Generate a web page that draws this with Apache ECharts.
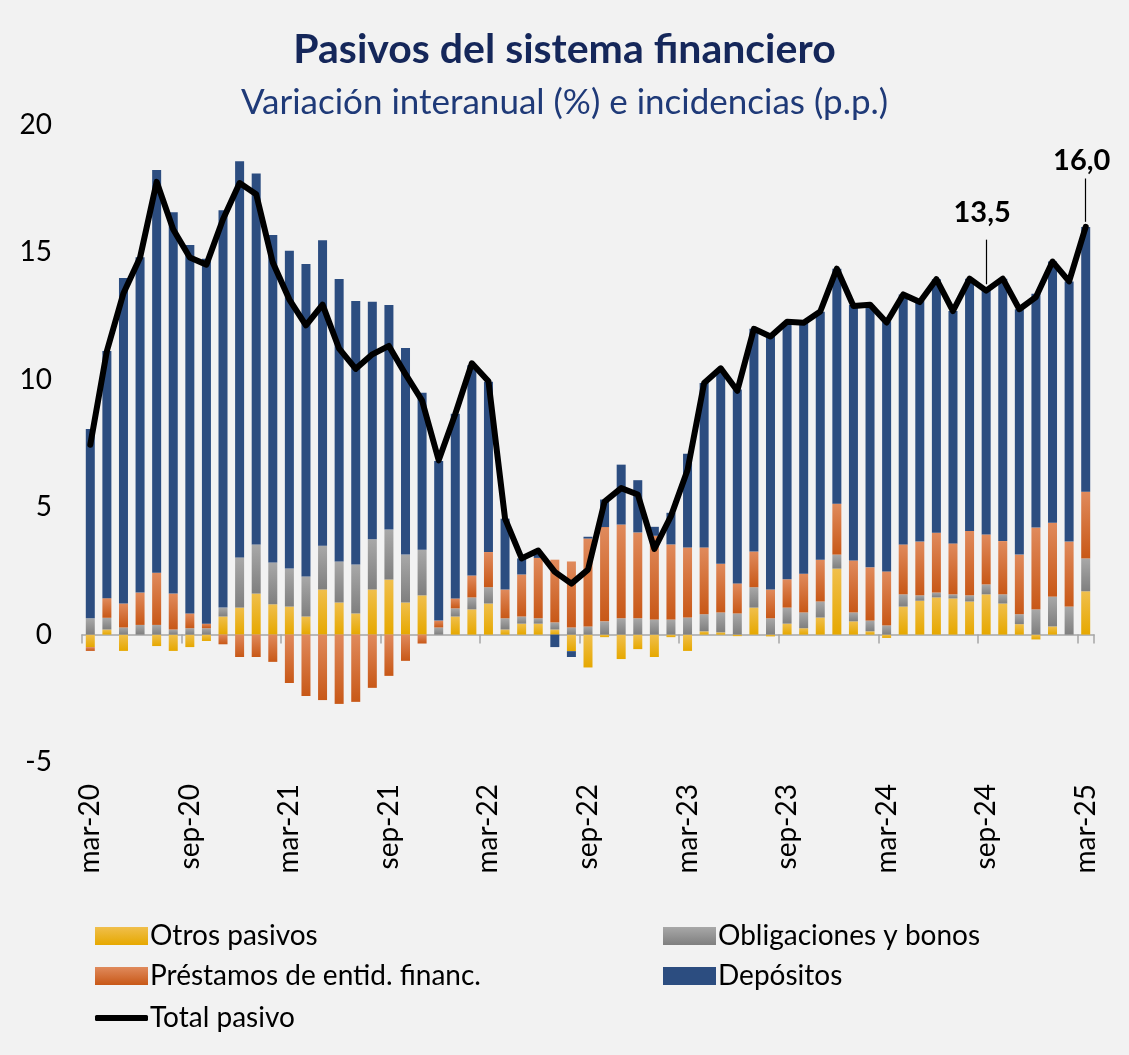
<!DOCTYPE html>
<html>
<head>
<meta charset="utf-8">
<script src="https://cdn.jsdelivr.net/npm/echarts@6/dist/echarts.min.js"></script>
<style>
  html, body { margin: 0; padding: 0; background: #f2f2f2; }
  #main { width: 1129px; height: 1055px; }
</style>
</head>
<body>
<div id="main"></div>
<script>
// meses: mar-20 ... mar-25
var meses = ['ene','feb','mar','abr','may','jun','jul','ago','sep','oct','nov','dic'];
var categorias = [];
for (var a = 20; a <= 25; a++) {
    for (var m = 0; m < 12; m++) {
        if ((a === 20 && m < 2) || (a === 25 && m > 2)) continue;
        categorias.push(meses[m] + '-' + a);
    }
}
// etiquetas del eje cada 6 meses
var etiquetasEje = ['mar-20','sep-20','mar-21','sep-21','mar-22','sep-22','mar-23','sep-23','mar-24','sep-24','mar-25'];

// incidencias (p.p.)
var otrosPasivos = [-0.49,0.20,-0.64,0,-0.45,-0.64,-0.49,-0.25,0.71,1.06,
    1.61,1.19,1.10,0.71,1.77,1.26,0.83,1.77,2.16,1.26,
    1.54,0,0.71,0.99,1.22,0.20,0.43,0.43,0.20,-0.65,
    -1.29,-0.10,-0.96,-0.57,-0.88,-0.10,-0.64,0.13,0.09,-0.06,
    1.06,-0.07,0.43,0.25,0.67,2.59,0.52,0.13,-0.13,1.10,
    1.33,1.46,1.42,1.30,1.58,1.22,0.41,-0.19,0.32,0,1.70];
var obligaciones = [0.64,0.46,0.28,0.38,0.38,0.20,0.25,0.25,0.35,1.97,
    1.93,1.64,1.49,1.57,1.72,1.61,1.92,1.97,1.96,1.88,
    1.79,0.28,0.32,0.47,0.64,0.44,0.28,0.21,0.28,0.28,
    0.32,0.52,0.64,0.64,0.59,0.59,0.67,0.67,0.78,0.83,
    0.80,0.64,0.63,0.62,0.63,0.55,0.35,0.42,0.36,0.48,
    0.21,0.19,0.16,0.24,0.39,0.36,0.39,0.99,1.17,1.10,1.29];
var prestamos = [-0.15,0.77,0.94,1.27,2.05,1.41,0.58,0.18,-0.38,-0.88,
    -0.88,-1.07,-1.90,-2.41,-2.57,-2.72,-2.64,-2.09,-1.62,-1.03,
    -0.35,0.27,0.39,0.86,1.38,1.13,1.65,2.37,2.46,2.59,
    3.45,3.70,3.68,3.37,3.29,2.95,2.75,2.62,1.91,1.18,
    1.40,1.13,1.11,1.52,1.64,2.00,2.04,2.09,2.12,1.96,
    2.11,2.35,2.00,2.53,1.96,2.09,2.34,3.21,2.90,2.55,2.62];
var depositos = [7.43,9.70,12.78,13.16,15.80,14.97,14.46,14.32,15.59,15.55,
    14.56,12.85,12.47,12.26,11.99,11.09,10.34,9.32,8.82,8.11,
    6.16,6.26,7.25,8.25,6.68,2.78,0.63,0.24,-0.49,-0.23,
    0.07,1.08,2.35,2.05,0.35,1.24,3.68,6.45,7.60,7.61,
    8.74,9.98,10.09,9.84,9.73,9.22,10.03,10.30,9.82,9.81,
    9.45,9.95,9.12,9.90,9.57,10.30,9.63,9.18,10.25,10.21,10.39];
// variación interanual (%)
var totalPasivo = [7.45,11.13,13.4,14.8,17.77,15.9,14.8,14.52,16.3,17.72,
    17.28,14.6,13.15,12.14,12.95,11.22,10.43,11.0,11.33,10.22,
    9.18,6.84,8.66,10.65,9.94,4.55,2.99,3.3,2.46,2.0,
    2.55,5.22,5.75,5.5,3.36,4.65,6.46,9.87,10.45,9.57,
    12.0,11.7,12.28,12.24,12.68,14.36,12.9,12.95,12.25,13.35,
    13.05,13.95,12.7,13.97,13.5,13.97,12.77,13.25,14.64,13.86,16.0];
// puntos con etiqueta y su guía: [índice, desplazamiento x, desplazamiento y, inicio guía, fin guía]
var etiquetas = [[54, -4, -58, 13.75, 15.5], [60, -4, -47, 16.2, 17.9]];

var fuente = 'Lato, "Open Sans", sans-serif';

function degradado(arriba, abajo) {
    return { type: 'linear', x: 0, y: 0, x2: 0, y2: 1,
        colorStops: [{ offset: 0, color: arriba }, { offset: 1, color: abajo }] };
}
var cAmarillo = degradado('#f0bf4c', '#e6a800');
var cGris = degradado('#a8a8a8', '#7f7f7f');
var cNaranja = degradado('#e08a5c', '#c85817');
var cAzul = '#2c4d80';

function serieBarra(nombre, datos, color) {
    return {
        name: nombre,
        type: 'bar',
        stack: 'inc',
        barWidth: 9,
        data: datos,
        itemStyle: { color: color }
    };
}

function leyenda(nombre, left, top, alto) {
    var l = {
        data: [{ name: nombre, icon: alto ? 'roundRect' : 'rect' }],
        left: left, top: top,
        padding: 0,
        itemWidth: 53, itemHeight: alto || 18,
        itemGap: 0,
        textStyle: { fontFamily: fuente, fontSize: 28, color: '#000', padding: [0, 0, 0, -3] }
    };
    return l;
}

var datosTotal = totalPasivo.map(function (v, i) {
    for (var k = 0; k < etiquetas.length; k++) {
        if (etiquetas[k][0] === i) {
            return { value: v, label: { show: true, offset: [etiquetas[k][1], etiquetas[k][2]] } };
        }
    }
    return v;
});
var guias = etiquetas.map(function (e) {
    return [{ coord: [e[0], e[3]] }, { coord: [e[0], e[4]] }];
});

var chart = echarts.init(document.getElementById('main'));
var option = {
    backgroundColor: '#f2f2f2',
    animation: false,
    title: [{
        text: 'Pasivos del sistema financiero',
        left: 'center', top: 24,
        textStyle: { fontFamily: fuente, fontSize: 41, fontWeight: 'bold', color: '#15275a' }
    }, {
        text: 'Variación interanual (%) e incidencias (p.p.)',
        left: 'center', top: 80,
        textStyle: { fontFamily: fuente, fontSize: 35, fontWeight: 'normal', color: '#1f3a78' }
    }],
    legend: [
        leyenda('Otros pasivos', 95, 922),
        leyenda('Obligaciones y bonos', 663, 922),
        leyenda('Préstamos de entid. financ.', 95, 962),
        leyenda('Depósitos', 663, 962),
        leyenda('Total pasivo', 95, 1004, 6)
    ],
    grid: { left: 82, right: 35, top: 125, bottom: 293 },
    xAxis: [{
        // línea del cero con marcas cada 6 meses
        type: 'category',
        data: categorias,
        position: 'bottom',
        axisLine: { onZero: true, lineStyle: { color: '#a6a6a6', width: 1.5 } },
        axisTick: { show: true, interval: 5, length: 9, lineStyle: { color: '#a6a6a6', width: 1.5 } },
        axisLabel: { show: false }
    }, {
        type: 'category',
        data: categorias,
        position: 'bottom',
        axisLine: { show: false, onZero: false },
        axisTick: { show: false },
        axisLabel: {
            interval: 5, rotate: 90, margin: 22,
            fontFamily: fuente, fontSize: 28, color: '#000',
            formatter: function (v) { return etiquetasEje.indexOf(v) >= 0 ? v : ''; }
        }
    }],
    yAxis: {
        type: 'value',
        min: -5, max: 20, interval: 5,
        splitLine: { show: false },
        axisLine: { show: false },
        axisTick: { show: false },
        axisLabel: { fontFamily: fuente, fontSize: 28, color: '#000', margin: 30, align: 'right' }
    },
    series: [
        serieBarra('Otros pasivos', otrosPasivos, cAmarillo),
        serieBarra('Obligaciones y bonos', obligaciones, cGris),
        serieBarra('Préstamos de entid. financ.', prestamos, cNaranja),
        serieBarra('Depósitos', depositos, cAzul),
        {
            name: 'Total pasivo',
            type: 'line',
            symbol: 'circle',
            symbolSize: 0,
            showSymbol: true,
            z: 5,
            itemStyle: { color: '#000' },
            lineStyle: { color: '#000', width: 6, cap: 'round', join: 'round' },
            data: datosTotal,
            label: {
                show: false,
                position: 'top',
                fontFamily: fuente, fontSize: 29, fontWeight: 'bold', color: '#000',
                formatter: function (p) { return p.value.toFixed(1).replace('.', ','); }
            },
            markLine: {
                silent: true,
                symbol: 'none',
                label: { show: false },
                lineStyle: { color: '#000', width: 1.2, type: 'solid' },
                data: guias
            }
        }
    ]
};
chart.setOption(option);
</script>
</body>
</html>
